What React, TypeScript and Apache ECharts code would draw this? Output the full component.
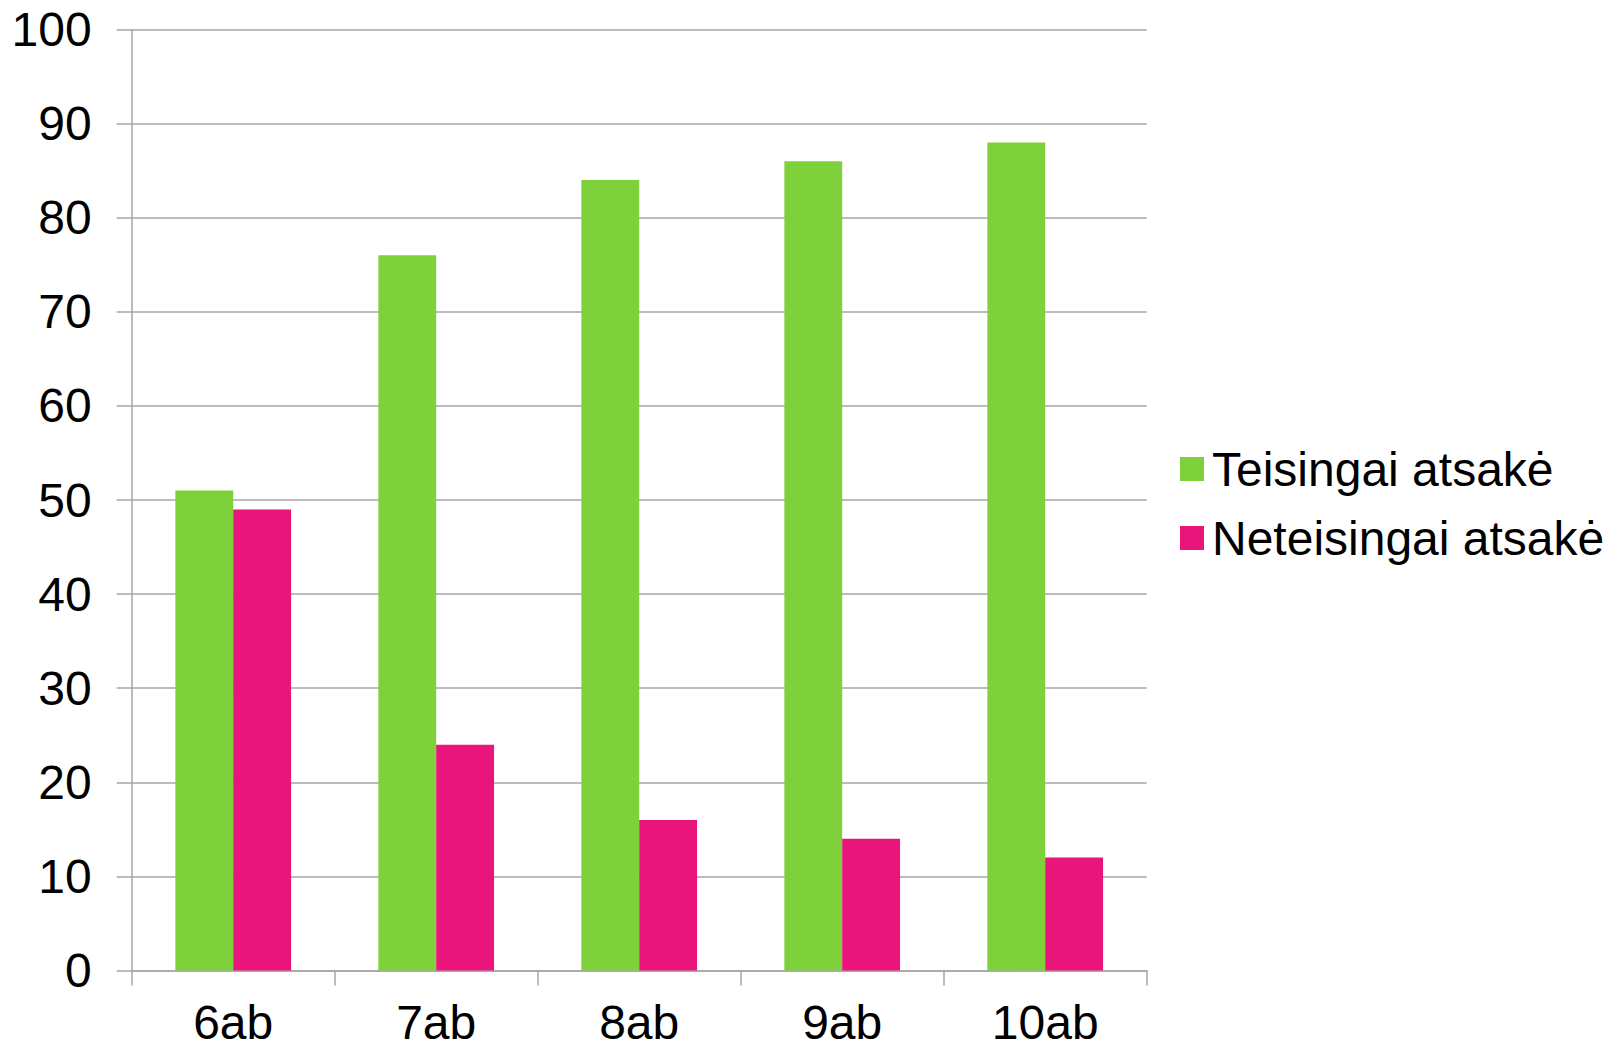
import React, { useEffect, useRef } from "react";
import * as echarts from "echarts";

const categories = ["6ab", "7ab", "8ab", "9ab", "10ab"];
const correct = [51, 76, 84, 86, 88];
const incorrect = [49, 24, 16, 14, 12];
const seriesNames = ["Teisingai atsakė", "Neteisingai atsakė"];

export default function App() {
  const ref = useRef<HTMLDivElement>(null);
  useEffect(() => {
    document.body.style.margin = "0";
    const chart = echarts.init(ref.current!, null, { renderer: "svg" });
    const font = "'Liberation Sans', Arial, sans-serif";
    const grey = "#A6A6A6";
    chart.setOption({
      animation: false,
      backgroundColor: "#ffffff",
      grid: { left: 131.7, right: 476.3, top: 29.5, bottom: 78.5, containLabel: false },
      legend: {
        orient: "vertical",
        left: 1175,
        top: 439,
        itemWidth: 24,
        itemHeight: 24,
        itemGap: 19,
        icon: "rect",
        textStyle: { fontFamily: font, fontSize: 48, lineHeight: 50, color: "#000", padding: [0, 0, 0, 3] },
        data: seriesNames,
      },
      xAxis: {
        type: "category",
        data: categories,
        axisLine: { lineStyle: { color: grey, width: 1.5 } },
        axisTick: { show: true, length: 15, lineStyle: { color: grey, width: 1.5 } },
        axisLabel: { fontFamily: font, fontSize: 48, lineHeight: 46, color: "#000", margin: 29 },
      },
      yAxis: {
        type: "value",
        min: 0,
        max: 100,
        interval: 10,
        axisLine: { show: true, lineStyle: { color: grey, width: 1.5 } },
        axisTick: { show: true, length: 15, lineStyle: { color: grey, width: 1.5 } },
        axisLabel: { fontFamily: font, fontSize: 48, color: "#000", margin: 40 },
        splitLine: { show: true, lineStyle: { color: grey, width: 1.5 } },
      },
      series: [
        {
          name: seriesNames[0],
          type: "bar",
          data: correct,
          barGap: "0%",
          barCategoryGap: "43%",
          itemStyle: { color: "#7FD13B" },
        },
        {
          name: seriesNames[1],
          type: "bar",
          data: incorrect,
          barGap: "0%",
          barCategoryGap: "43%",
          itemStyle: { color: "#EA157A" },
        },
      ],
    });
    return () => chart.dispose();
  }, []);
  return <div ref={ref} style={{ width: 1623, height: 1049 }} />;
}
